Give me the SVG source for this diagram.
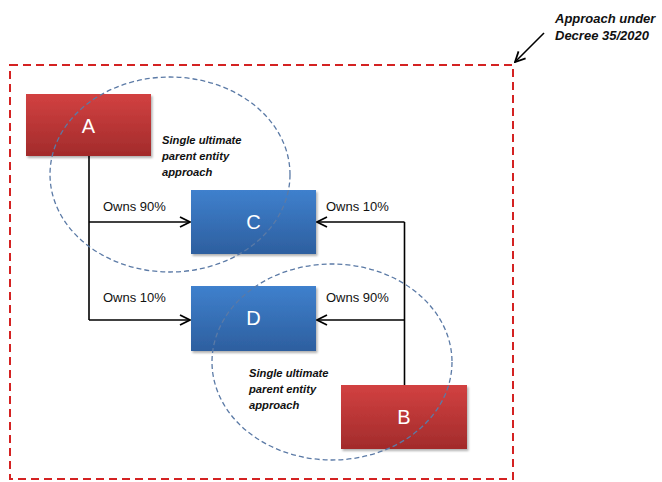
<svg xmlns="http://www.w3.org/2000/svg" width="662" height="482" viewBox="0 0 662 482">
<defs>
<linearGradient id="gRed" x1="0" y1="0" x2="0" y2="1"><stop offset="0" stop-color="#d24141"/><stop offset="1" stop-color="#a22b2b"/></linearGradient>
<linearGradient id="gBlue" x1="0" y1="0" x2="0" y2="1"><stop offset="0" stop-color="#3f80cd"/><stop offset="1" stop-color="#2d5f9f"/></linearGradient>
<marker id="arr" viewBox="0 0 12 12" refX="11" refY="6" markerWidth="12" markerHeight="12" markerUnits="userSpaceOnUse" orient="auto"><path d="M1,1 L11,6 L1,11" fill="none" stroke="#000" stroke-width="1.8"/></marker>
<filter id="sh" x="-10%" y="-10%" width="130%" height="130%"><feDropShadow dx="1.5" dy="2" stdDeviation="1.2" flood-color="#000" flood-opacity="0.3"/></filter>
</defs>
<style>
.box{filter:url(#sh)}
.lbl{font-family:"Liberation Sans",Arial,sans-serif;font-size:20px;fill:#fff;text-anchor:middle}
.own{font-family:"Liberation Sans",Arial,sans-serif;font-size:13px;fill:#111}
.note{font-family:"Liberation Sans",Arial,sans-serif;font-size:11.2px;font-weight:bold;font-style:italic;fill:#111}
.conn{fill:none;stroke:#000;stroke-width:1.6}
.ell{fill:none;stroke:#5b7aa6;stroke-width:1.3;stroke-dasharray:5 3}
</style>
<rect x="10" y="65" width="503" height="414" fill="none" stroke="#d42222" stroke-width="2" stroke-dasharray="8 5"/>
<text class="note" x="555" y="23" font-size="13px" style="font-size:13px">Approach under</text>
<text class="note" x="555" y="40" style="font-size:13px">Decree 35/2020</text>
<g id="connectors">
<line class="conn" x1="544" y1="33" x2="515" y2="62" marker-end="url(#arr)"/>
<polyline class="conn" points="89,156 89,320"/>
<line class="conn" x1="89" y1="222" x2="190" y2="222" marker-end="url(#arr)"/>
<line class="conn" x1="89" y1="320" x2="190" y2="320" marker-end="url(#arr)"/>
<polyline class="conn" points="404.5,385 404.5,222"/>
<line class="conn" x1="404.5" y1="222" x2="317" y2="222" marker-end="url(#arr)"/>
<line class="conn" x1="404.5" y1="320" x2="317" y2="320" marker-end="url(#arr)"/>
<text class="own" x="103" y="211">Owns 90%</text>
<text class="own" x="326" y="211">Owns 10%</text>
<text class="own" x="103" y="302">Owns 10%</text>
<text class="own" x="326" y="302">Owns 90%</text>
</g>
<g id="nodeA"><rect class="box" x="26" y="94" width="125" height="62" fill="url(#gRed)"/><text class="lbl" x="88.5" y="133">A</text></g>
<g id="nodeC"><rect class="box" x="191" y="190" width="125" height="64" fill="url(#gBlue)"/><text class="lbl" x="253.5" y="229">C</text></g>
<g id="nodeD"><rect class="box" x="191" y="286" width="125" height="65" fill="url(#gBlue)"/><text class="lbl" x="253.5" y="325">D</text></g>
<g id="nodeB"><rect class="box" x="341" y="385" width="126" height="64" fill="url(#gRed)"/><text class="lbl" x="404" y="424">B</text></g>
<g id="group1">
<ellipse class="ell" cx="170" cy="174.5" rx="120" ry="97.5"/>
<text class="note" x="162" y="144">Single ultimate</text>
<text class="note" x="162" y="160">parent entity</text>
<text class="note" x="162" y="176">approach</text>
</g>
<g id="group2">
<ellipse class="ell" cx="332" cy="362" rx="120" ry="98"/>
<text class="note" x="249" y="377">Single ultimate</text>
<text class="note" x="249" y="393">parent entity</text>
<text class="note" x="249" y="409">approach</text>
</g>
</svg>
